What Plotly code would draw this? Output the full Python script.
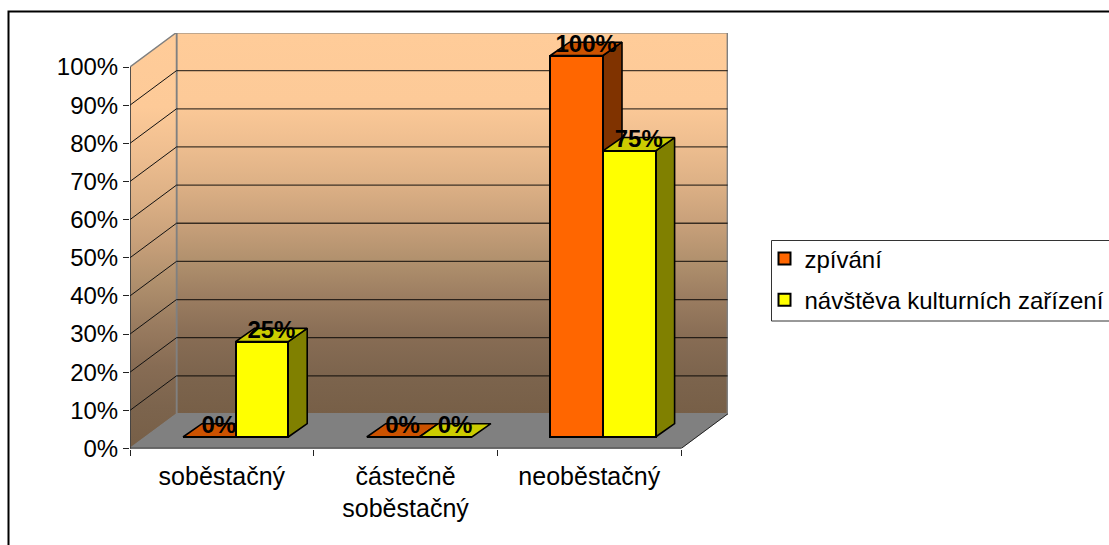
import plotly.graph_objects as go

categories = ["soběstačný", "částečně<br>soběstačný", "neoběstačný"]
series_names = ["zpívání", "návštěva kulturních zařízení"]
zpivani = [0, 0, 100]
navsteva = [25, 0, 75]
y_ticks = [0, 10, 20, 30, 40, 50, 60, 70, 80, 90, 100]
y_labels = [f"{v}%" for v in y_ticks]

W, H = 1109, 545
FONT = "Liberation Sans"
FS = 24
CAT_FS = 25
LABEL_FS = 24
# pixel frame of the plot
PX_L, PX_R, PX_B, PX_T = 130.0, 728.0, 448.5, 33.0
CAT_PX = 183.7
VAL_PX = 3.815
WALL_DX = 46.5 / CAT_PX
WALL_DY = 34.5 / VAL_PX
BAR_DX = 19 / CAT_PX
BAR_DY = 13.3 / VAL_PX
BASE = 11.5 / VAL_PX
BAR_W = 52.6 / CAT_PX
BAR_OFF = 53 / CAT_PX
LABEL_DROP = 3.5 / VAL_PX
XR = [0, (PX_R - PX_L) / CAT_PX]
YR = [0, (PX_B - PX_T) / VAL_PX]
N = len(categories)

fig = go.Figure()


def poly(xs, ys, fill, ax, line="black", lw=1.6, **kw):
    fig.add_trace(go.Scatter(x=xs, y=ys, mode="lines", fill="toself", fillcolor=fill,
                             line=dict(color=line, width=lw), hoverinfo="skip",
                             showlegend=False, xaxis=ax[0], yaxis=ax[1], **kw))


def line(xs, ys, color, width, ax=("x", "y")):
    fig.add_trace(go.Scatter(x=xs, y=ys, mode="lines", line=dict(color=color, width=width),
                             hoverinfo="skip", showlegend=False, xaxis=ax[0], yaxis=ax[1]))


GRAD = [[0, "#FFCC99"], [0.18, "#FDCA98"], [0.3, "#EDBD8F"], [0.4, "#DCB085"], [0.5, "#C8A07A"],
        [0.6, "#B0906D"], [0.7, "#9A7C60"], [0.8, "#876C54"], [0.9, "#7C644D"], [1, "#775F47"]]
TOP = y_ticks[-1]
# back wall
poly([WALL_DX, N + WALL_DX, N + WALL_DX, WALL_DX, WALL_DX],
     [WALL_DY, WALL_DY, TOP + WALL_DY, TOP + WALL_DY, WALL_DY],
     "#FFCC99", ("x", "y"), line="#808080", lw=2,
     fillgradient=dict(type="vertical", colorscale=GRAD, start=TOP + WALL_DY, stop=WALL_DY))
# left wall
poly([0, WALL_DX, WALL_DX, 0, 0], [0, WALL_DY, TOP + WALL_DY, TOP, 0],
     "#FFCC99", ("x", "y"), line="#808080", lw=1.5,
     fillgradient=dict(type="vertical", colorscale=GRAD, start=TOP + WALL_DY, stop=0))
# floor
poly([0, N, N + WALL_DX, WALL_DX, 0], [0, 0, WALL_DY, WALL_DY, 0], "#808080", ("x", "y"),
     line="#808080", lw=0.5)
# gridlines
gx, gy, lx, ly = [], [], [], []
for v in y_ticks[1:-1]:
    gx += [WALL_DX, N + WALL_DX, None]
    gy += [v + WALL_DY, v + WALL_DY, None]
    lx += [0, WALL_DX, None]
    ly += [v, v + WALL_DY, None]
line(gx, gy, "rgba(0,0,0,0.72)", 1.3)
line(lx, ly, "#111111", 1)
# axis lines
line([0, 0], [0, TOP], "#222222", 1.2)
line([0, N], [0, 0], "#111111", 1.4)
line([N, N + WALL_DX], [0, WALL_DY], "#222222", 1)


def faces(values, j, side, top, ax):
    for k, v in enumerate(values):
        x0 = k + BAR_OFF + j * BAR_W
        x1 = x0 + BAR_W
        y0 = BASE
        y1 = BASE + v
        if v > 0:
            poly([x1, x1 + BAR_DX, x1 + BAR_DX, x1, x1],
                 [y0, y0 + BAR_DY, y1 + BAR_DY, y1, y0], side, ax)
        poly([x0, x1, x1 + BAR_DX, x0 + BAR_DX, x0],
             [y1, y1, y1 + BAR_DY, y1 + BAR_DY, y1], top, ax)


def fronts(values, j, name, color, ax, group):
    fig.add_trace(go.Bar(x=[k + BAR_OFF + (j + 0.5) * BAR_W for k in range(N)], y=values,
                         base=BASE, width=BAR_W, name=name, legendgroup=group,
                         marker=dict(color=color, line=dict(color="black", width=2)),
                         xaxis=ax[0], yaxis=ax[1], hoverinfo="skip"))


faces(zpivani, 0, "#803300", "#CC5200", ("x", "y"))
fronts(zpivani, 0, series_names[0], "#FF6600", ("x2", "y2"), "a")
faces(navsteva, 1, "#808000", "#CCCC00", ("x2", "y2"))
fronts(navsteva, 1, series_names[1], "#FFFF00", ("x3", "y3"), "b")

# value labels
lab_x, lab_y, lab_t = [], [], []
for j, vals in enumerate([zpivani, navsteva]):
    for k, v in enumerate(vals):
        lab_x.append(k + BAR_OFF + (j + 0.5) * BAR_W + BAR_DX / 2)
        lab_y.append(v + BASE + BAR_DY - LABEL_DROP)
        lab_t.append(f"{v}%")
fig.add_trace(go.Scatter(x=lab_x, y=lab_y, text=lab_t, mode="text", textposition="middle center",
                         textfont=dict(family=FONT, size=LABEL_FS, color="black", weight="bold"),
                         cliponaxis=False, showlegend=False, hoverinfo="skip",
                         xaxis="x3", yaxis="y3"))

dom_x = [PX_L / W, PX_R / W]
dom_y = [1 - PX_B / H, 1 - PX_T / H]
hidden = dict(visible=False, domain=dom_x, range=XR)
hiddeny = dict(visible=False, domain=dom_y, range=YR)

fig.update_layout(
    width=W, height=H, autosize=False,
    margin=dict(l=0, r=0, t=0, b=0, autoexpand=False),
    paper_bgcolor="white", plot_bgcolor="rgba(0,0,0,0)",
    barmode="overlay", bargap=0,
    font=dict(family=FONT, size=FS, color="black"),
    xaxis=dict(domain=dom_x, range=XR, showgrid=False, zeroline=False, showline=False,
               tickmode="array", tickvals=[k + 0.5 for k in range(N)], ticktext=categories,
               ticks="outside", ticklen=5, tickcolor="rgba(0,0,0,0)", ticklabelstandoff=0,
               minor=dict(tickmode="array", tickvals=list(range(N + 1)), ticks="outside", ticklen=6,
                          tickcolor="#222222", tickwidth=1),
               tickfont=dict(family=FONT, size=CAT_FS), anchor="y"),
    yaxis=dict(domain=dom_y, range=YR, showgrid=False, zeroline=False, showline=False,
               tickmode="array", tickvals=y_ticks, ticktext=y_labels,
               ticks="outside", ticklen=6, tickcolor="#222222", tickwidth=1,
               tickfont=dict(family=FONT, size=FS), anchor="x"),
    xaxis2=dict(overlaying="x", anchor="y2", **hidden),
    yaxis2=dict(overlaying="y", anchor="x2", **hiddeny),
    xaxis3=dict(overlaying="x", anchor="y3", **hidden),
    yaxis3=dict(overlaying="y", anchor="x3", **hiddeny),
    legend=dict(x=769.5 / W, y=1 - 236.5 / H, xanchor="left", yanchor="top",
                bgcolor="rgba(0,0,0,0)", borderwidth=0, indentation=-5,
                font=dict(family=FONT, size=FS), traceorder="grouped", tracegroupgap=7),
    shapes=[dict(type="rect", xref="paper", yref="paper", x0=8.5 / W, x1=1.2, y0=-0.2,
                 y1=1 - 11.5 / H, line=dict(color="black", width=2), layer="below"),
            dict(type="rect", xref="paper", yref="paper", x0=771.5 / W, x1=1.2, y0=1 - 321 / H,
                 y1=1 - 240.5 / H, line=dict(color="#333333", width=1), fillcolor="white",
                 layer="below")],
)
fig.write_html("out.html", config={"displayModeBar": False},
               post_script="document.body.style.margin='0';document.body.style.overflow='hidden';")
